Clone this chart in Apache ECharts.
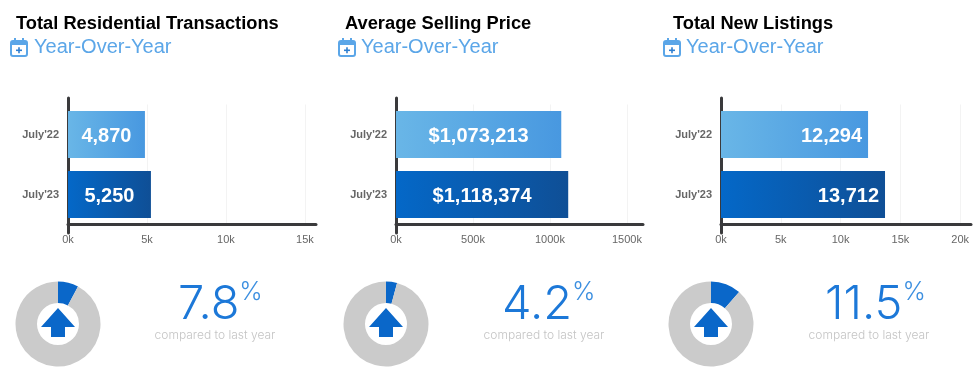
<!DOCTYPE html>
<html>
<head>
<meta charset="utf-8">
<script src="https://cdn.jsdelivr.net/npm/echarts@6/dist/echarts.min.js"></script>
<style>
    html, body { margin: 0; padding: 0; background: #fff; }
    #main { width: 975px; height: 376px; }
</style>
</head>
<body>
<div id="main"></div>
<script>
const periods = ["July'22", "July'23"];
const titles = ["Total Residential Transactions", "Average Selling Price", "Total New Listings"];
const subtitle = "Year-Over-Year";
const transactions = [4870, 5250];
const sellingPrice = [1073213, 1118374];
const newListings = [12294, 13712];
const pctChange = [7.8, 4.2, 11.5];
const compareText = "compared to last year";

const BLUE = "#0a67c9";
const SUB_BLUE = "#5ba6e8";

// layout of the three columns
const panels = [
    { values: transactions, prefix: "", left: 68, width: 248, max: 15700, interval: 5000, pos: "inside", dist: 0, size: 20, titleX: 16, iconX: 10, subX: 34, pieX: 58, pctX: 178, cmpX: 215 },
    { values: sellingPrice, prefix: "$", left: 396, width: 247, max: 1604000, interval: 500000, pos: "inside", dist: 0, size: 20, titleX: 345, iconX: 338, subX: 361, pieX: 386, pctX: 502, cmpX: 544 },
    { values: newListings, prefix: "", left: 721, width: 250, max: 20900, interval: 5000, pos: "insideRight", dist: 6, size: 20, titleX: 673, iconX: 663, subX: 686, pieX: 711, pctX: 825, cmpX: 869 }
];

function barGradient(i) {
    const stops = i === 0 ? ["#69b6e7", "#4898e0"] : ["#0468c8", "#0f4f96"];
    return new echarts.graphic.LinearGradient(0, 0, 1, 0, [
        { offset: 0, color: stops[0] },
        { offset: 1, color: stops[1] }
    ]);
}

const grid = [], xAxis = [], yAxis = [], series = [], title = [], graphic = [];

panels.forEach((p, n) => {
    // bar grid
    grid.push({ left: p.left, width: p.width, top: 104.5, height: 120 });
    xAxis.push({
        gridIndex: n * 2,
        type: "value",
        position: "bottom",
        min: 0,
        max: p.max,
        interval: p.interval,
        axisLine: { show: true, onZero: false, lineStyle: { color: "#3a3a3c", width: 3 } },
        axisTick: { show: false },
        axisLabel: {
            showMaxLabel: false,
            margin: 10,
            fontFamily: "Liberation Sans",
            fontSize: 11,
            color: "#666",
            formatter: v => (v / 1000) + "k"
        },
        splitLine: { show: true, showMaxLine: false, lineStyle: { color: "#f3f3f3", width: 1 } }
    });
    yAxis.push({
        gridIndex: n * 2,
        type: "category",
        inverse: true,
        data: periods,
        axisLine: { show: false },
        axisTick: { show: false },
        axisLabel: { margin: 9, fontFamily: "Liberation Sans", fontSize: 11, fontWeight: "bold", color: "#666" }
    });

    // the y axis line runs past the bars on both ends, so it gets its own grid
    grid.push({ left: p.left, width: p.width, top: 98, height: 135 });
    xAxis.push({ gridIndex: n * 2 + 1, type: "value", min: 0, max: 1, show: false });
    yAxis.push({
        gridIndex: n * 2 + 1,
        type: "value",
        min: 0,
        max: 1,
        axisLine: { show: true, lineStyle: { color: "#3a3a3c", width: 3 } },
        axisTick: { show: false },
        axisLabel: { show: false },
        splitLine: { show: false }
    });
    series.push({
        type: "line",
        xAxisIndex: n * 2 + 1,
        yAxisIndex: n * 2 + 1,
        data: [],
        silent: true
    });

    series.push({
        type: "bar",
        xAxisIndex: n * 2,
        yAxisIndex: n * 2,
        barWidth: 47,
        data: p.values.map((v, i) => ({ value: v, itemStyle: { color: barGradient(i) } })),
        label: {
            show: true,
            position: p.pos,
            distance: p.dist,
            offset: [0, 2],
            fontFamily: "Liberation Sans",
            fontWeight: "bold",
            fontSize: p.size,
            color: "#fff",
            formatter: d => p.prefix + d.value.toLocaleString("en-US")
        },
        silent: true
    });

    // donut
    series.push({
        type: "pie",
        center: [p.pieX, 324],
        radius: [21, 42.5],
        startAngle: 90,
        clockwise: true,
        label: { show: false },
        labelLine: { show: false },
        silent: true,
        data: [
            { value: pctChange[n], itemStyle: { color: BLUE } },
            { value: 100 - pctChange[n], itemStyle: { color: "#cbcbcb" } }
        ]
    });

    title.push({
        text: titles[n],
        left: p.titleX,
        top: 15,
        padding: 0,
        textStyle: { fontFamily: "Liberation Sans", fontWeight: "bold", fontSize: 18.3, color: "#000" }
    });
    title.push({
        text: subtitle,
        left: p.subX,
        top: 37,
        padding: 0,
        textStyle: { fontFamily: "Liberation Sans", fontWeight: "normal", fontSize: 20, color: SUB_BLUE }
    });
    title.push({
        text: "{num|" + pctChange[n] + "}{pct|%}",
        left: p.pctX,
        top: 280,
        padding: 0,
        textStyle: {
            rich: {
                num: { fontFamily: "Inter", fontWeight: 300, fontSize: 47, color: "#1c78d8", lineHeight: 50 },
                pct: { fontFamily: "Inter", fontWeight: 300, fontSize: 25, color: "#3c8fe0", lineHeight: 50, verticalAlign: "top", padding: [0, 0, 8, 0] }
            }
        }
    });
    title.push({
        text: compareText,
        left: p.cmpX,
        top: 329,
        textAlign: "center",
        padding: 0,
        textStyle: { fontFamily: "Inter", fontWeight: 300, fontSize: 12, color: "#c4c4c4" }
    });

    // calendar icon
    graphic.push({
        type: "group",
        left: p.iconX,
        top: 38,
        silent: true,
        children: [
            { type: "rect", shape: { x: 1, y: 3, width: 16, height: 15, r: 2 }, style: { fill: "#fff", stroke: SUB_BLUE, lineWidth: 2 } },
            { type: "rect", shape: { x: 1, y: 3, width: 16, height: 4 }, style: { fill: SUB_BLUE } },
            { type: "rect", shape: { x: 4, y: 0, width: 2, height: 4 }, style: { fill: SUB_BLUE } },
            { type: "rect", shape: { x: 12, y: 0, width: 2, height: 4 }, style: { fill: SUB_BLUE } },
            { type: "rect", shape: { x: 6, y: 11.5, width: 6, height: 1.6 }, style: { fill: "#2f7fd0" } },
            { type: "rect", shape: { x: 8.2, y: 9.3, width: 1.6, height: 6 }, style: { fill: "#2f7fd0" } }
        ]
    });

    // up arrow in the donut hole
    graphic.push({
        type: "polygon",
        silent: true,
        z: 10,
        shape: {
            points: [
                [p.pieX, 308], [p.pieX + 17, 327], [p.pieX + 7, 327], [p.pieX + 7, 337],
                [p.pieX - 7, 337], [p.pieX - 7, 327], [p.pieX - 17, 327]
            ]
        },
        style: { fill: BLUE }
    });
});

const chart = echarts.init(document.getElementById("main"));
chart.setOption({
    animation: false,
    backgroundColor: "#fff",
    title: title,
    grid: grid,
    xAxis: xAxis,
    yAxis: yAxis,
    series: series,
    graphic: graphic
});
</script>
</body>
</html>
